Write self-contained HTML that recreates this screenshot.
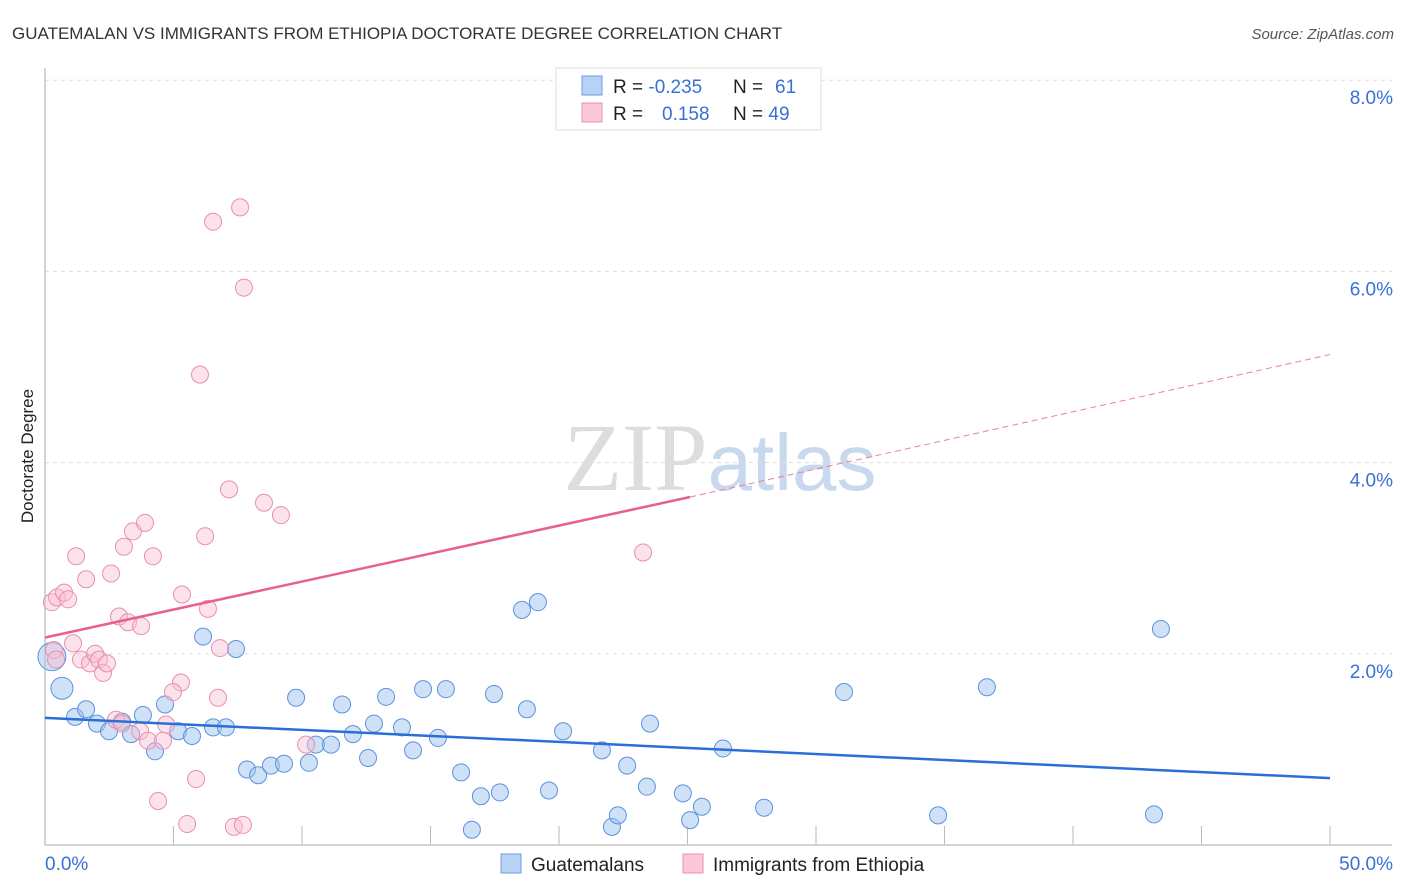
<!DOCTYPE html>
<html><head><meta charset="utf-8"><style>
body{margin:0;background:#fff;font-family:"Liberation Sans",sans-serif}
svg{display:block}
</style></head><body>
<svg id="chart" width="1406" height="892">
<text x="12" y="39" font-size="17" fill="#333">GUATEMALAN VS IMMIGRANTS FROM ETHIOPIA DOCTORATE DEGREE CORRELATION CHART</text>
<text x="1394" y="39" font-size="15" fill="#555" font-style="italic" text-anchor="end">Source: ZipAtlas.com</text>
<text x="720" y="490" font-size="96" fill="#ddd" text-anchor="middle" font-family="Liberation Serif">ZIP<tspan fill="#c8d8ee" font-family="Liberation Sans" font-size="80">atlas</tspan></text>
<g id="grid"></g>
<g id="axes"></g>
<g id="pts"></g>
<g id="lines"></g>
<text transform="translate(33,456) rotate(-90)" font-size="17" fill="#222" text-anchor="middle">Doctorate Degree</text>
<g>
<rect x="556" y="68" width="265" height="62" fill="#fff" stroke="#ddd"/>
<rect x="582" y="76" width="20" height="19" fill="#b8d2f5" stroke="#6a9de0"/>
<rect x="582" y="103" width="20" height="19" fill="#fac8d8" stroke="#e890aa"/>
<text x="613" y="93" font-size="19" fill="#222">R = <tspan fill="#3a6fd8">-0.235</tspan><tspan x="733">N = </tspan><tspan fill="#3a6fd8" x="775">61</tspan></text>
<text x="613" y="120" font-size="19" fill="#222">R = <tspan fill="#3a6fd8" x="662">0.158</tspan><tspan x="733">N = </tspan><tspan fill="#3a6fd8">49</tspan></text>
</g>
<g>
<rect x="501" y="854" width="20" height="19" fill="#b8d2f5" stroke="#6a9de0"/>
<text x="531" y="871" font-size="19" fill="#222">Guatemalans</text>
<rect x="683" y="854" width="20" height="19" fill="#fac8d8" stroke="#e890aa"/>
<text x="713" y="871" font-size="19" fill="#222">Immigrants from Ethiopia</text>
</g>
</svg>
<script>
const yTicks=[2,4,6,8];
const yTickLabels=["2.0%","4.0%","6.0%","8.0%"];
const xTickLabels=["0.0%","50.0%"];
const blueX=[0.27,0.66,1.17,1.6,2.02,2.49,3.0,3.35,3.81,4.28,4.67,5.18,5.72,6.15,6.54,7.04,7.43,7.86,8.29,8.79,9.3,9.77,10.27,10.54,11.13,11.56,11.98,12.57,12.8,13.27,13.89,14.32,14.71,15.29,15.6,16.19,16.61,16.96,17.47,17.7,18.56,18.75,19.18,19.61,20.16,21.67,22.06,22.29,22.65,23.42,23.54,24.82,25.1,25.56,26.38,27.98,31.09,34.75,36.65,43.15,43.42];
const blueY=[1.97,1.64,1.34,1.42,1.27,1.19,1.29,1.16,1.36,0.98,1.47,1.19,1.14,2.18,1.23,1.23,2.05,0.79,0.73,0.83,0.85,1.54,0.86,1.05,1.05,1.47,1.16,0.91,1.27,1.55,1.23,0.99,1.63,1.12,1.63,0.76,0.16,0.51,1.58,0.55,2.46,1.42,2.54,0.57,1.19,0.99,0.19,0.31,0.83,0.61,1.27,0.54,0.26,0.4,1.01,0.39,1.6,0.31,1.65,0.32,2.26];
const pinkX=[0.27,0.47,0.74,0.9,1.21,1.6,2.57,3.07,3.42,3.89,4.2,5.33,2.88,3.23,3.74,1.09,0.35,0.43,1.4,1.75,1.95,2.1,2.26,2.41,6.03,6.54,7.59,7.74,7.16,6.23,8.52,9.18,6.34,6.81,5.29,4.98,6.73,2.76,2.99,3.7,4.01,4.59,4.71,5.88,4.4,5.53,7.35,7.7,10.16,23.27];
const pinkY=[2.54,2.59,2.64,2.57,3.02,2.78,2.84,3.12,3.28,3.37,3.02,2.62,2.39,2.33,2.29,2.11,2.04,1.94,1.94,1.9,2.0,1.94,1.8,1.9,4.92,6.52,6.67,5.83,3.72,3.23,3.58,3.45,2.47,2.06,1.7,1.6,1.54,1.31,1.27,1.19,1.09,1.09,1.26,0.69,0.46,0.22,0.19,0.21,1.05,3.06];
const blueSizes=[14,11];
const X0=45,X1=1330,Y0=845,YPER=95.6,XPER=25.7;
const sx=v=>X0+v*XPER, sy=v=>Y0-v*YPER;
const NS="http://www.w3.org/2000/svg";
function mk(tag,attrs,parent){const e=document.createElementNS(NS,tag);for(const k in attrs)e.setAttribute(k,attrs[k]);parent.appendChild(e);return e;}
const grid=document.getElementById('grid'),axes=document.getElementById('axes'),pts=document.getElementById('pts'),lines=document.getElementById('lines');
yTicks.forEach((t,i)=>{
 const l=mk('line',{x1:X0,x2:1392,y1:sy(t),y2:sy(t),stroke:'#ddd','stroke-dasharray':'4,4'},grid);
 
 
 const tx=mk('text',{x:1393,y:sy(t)+24,'font-size':19,fill:'#3a6fd8','text-anchor':'end'},axes);
 tx.textContent=yTickLabels[i];
 
 
});
const ax=mk('path',{d:`M${X0} 68 V${Y0} H${X1+62}`,stroke:'#aaa',fill:'none'},axes);


for(let i=1;i<=10;i++){const x=sx(i*5);const t=mk('line',{x1:x,x2:x,y1:Y0,y2:Y0-19,stroke:'#bbb'},axes);
 
 }
[[0,'start',45],[50,'end',1393]].forEach((d,i)=>{const t=mk('text',{x:d[2],y:870,'font-size':19,fill:'#3a6fd8','text-anchor':d[1]},axes);t.textContent=xTickLabels[i];
 
 });
blueX.forEach((v,i)=>{const c=mk('circle',{cx:sx(v),cy:sy(blueY[i]),r:blueSizes[i]||8.5,fill:'rgba(160,195,240,0.5)',stroke:'#5b92de','stroke-width':1},pts);
 
 });
pinkX.forEach((v,i)=>{const c=mk('circle',{cx:sx(v),cy:sy(pinkY[i]),r:8.5,fill:'rgba(248,190,210,0.45)',stroke:'#ea8fae','stroke-width':1},pts);
 
 });
const bl=mk('line',{x1:sx(0),y1:sy(1.33),x2:sx(50),y2:sy(0.7),stroke:'#2a6fd8','stroke-width':2.5},lines);


const pl=mk('line',{x1:sx(0),y1:sy(2.17),x2:sx(25.1),y2:sy(3.64),stroke:'#e8608c','stroke-width':2.5},lines);


const pd=mk('line',{x1:sx(25.1),y1:sy(3.64),x2:sx(50),y2:sy(5.13),stroke:'#e8809f','stroke-width':1,'stroke-dasharray':'6,4'},lines);


</script>
</body></html>
